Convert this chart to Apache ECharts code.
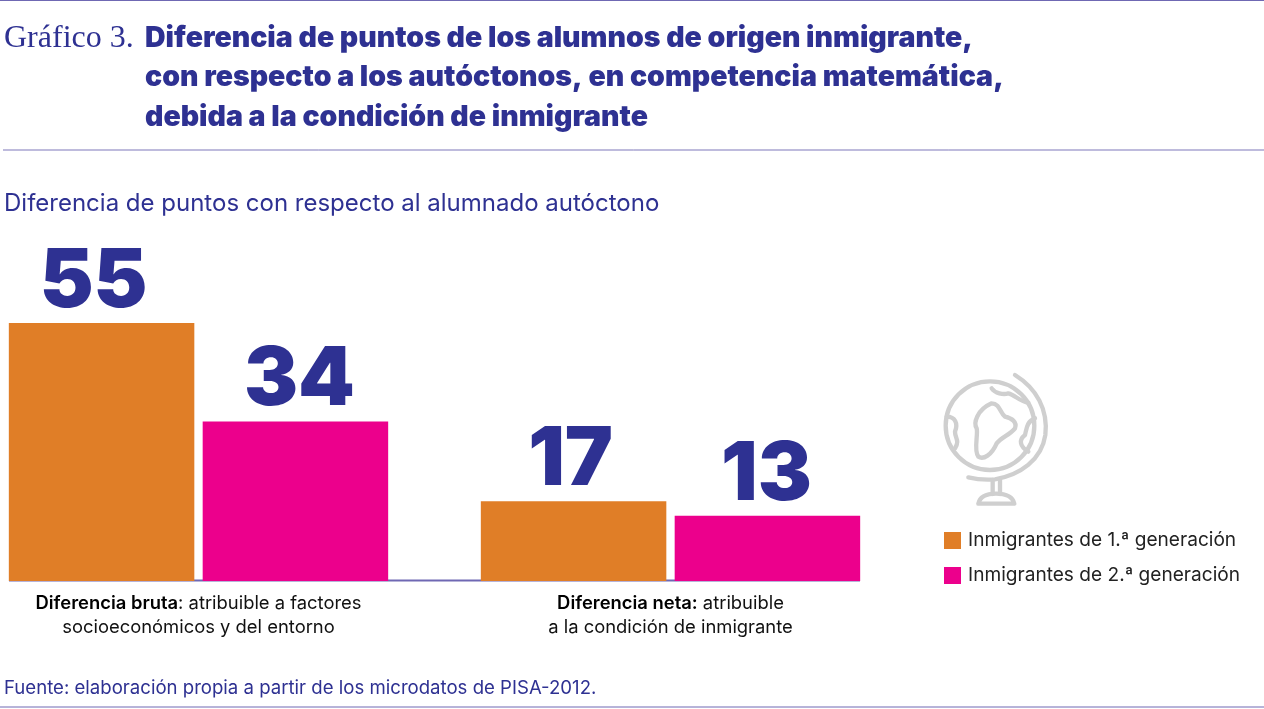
<!DOCTYPE html>
<html>
<head>
<meta charset="utf-8">
<style>html,body{margin:0;padding:0;background:#fff}#c{width:1264px;height:709px}</style>
<script src="https://cdn.jsdelivr.net/npm/echarts@6/dist/echarts.min.js"></script>
</head>
<body>
<div id="c"></div>
<script>
const categories = [
  '{b|Diferencia bruta}: atribuible a factores\nsocioeconómicos y del entorno',
  '{b|Diferencia neta:} atribuible\na la condición de inmigrante'
];
const seriesNames = ['Inmigrantes de 1.ª generación', 'Inmigrantes de 2.ª generación'];
const gen1 = [55, 17];
const gen2 = [34, 13.9];
const gen1Labels = [55, 17];
const gen2Labels = [34, 13];

const BLUE = '#2e3192', LINE = '#6f68b3', SANS = 'Inter, Roboto, sans-serif';
const chart = echarts.init(document.getElementById('c'), null, {renderer: 'canvas'});

const barLabel = (printed) => ({
  show: true, position: 'top', distance: 0,
  fontFamily: SANS, fontWeight: 900, fontSize: 81, color: BLUE,
  formatter: p => String(printed[p.dataIndex])
});
const barData = (values, nudges) => values.map((value, i) => ({value, label: {offset: [nudges[i], 0]}}));
const rule = (x1, y, x2, w, op) => ({
  type: 'line', silent: true,
  shape: {x1, y1: y, x2, y2: y},
  style: {stroke: LINE, lineWidth: w, opacity: op}
});
const G = {stroke: '#cfcfcf', lineWidth: 13, fill: null, lineCap: 'round', lineJoin: 'round'};
let shapeId = 0;
const gp = d => {
  const name = 'globePart' + (shapeId++);
  echarts.graphic.registerShape(name, echarts.graphic.extendPath(d, {}));
  return {type: name, silent: true, style: G};
};

chart.setOption({
  animation: false,
  backgroundColor: '#fff',
  title: [
    {text: 'Gráfico 3.', left: 4, top: 23, padding: 0, textStyle: {fontFamily: '"Liberation Serif", serif', fontWeight: 400, fontSize: 32, color: BLUE}},
    {text: 'Diferencia de puntos de los alumnos de origen inmigrante,\ncon respecto a los autóctonos, en competencia matemática,\ndebida a la condición de inmigrante',
     left: 145, top: 18.5, padding: 0, textStyle: {fontFamily: SANS, fontWeight: 900, fontSize: 28.5, lineHeight: 39.5, color: BLUE}},
    {text: 'Diferencia de puntos con respecto al alumnado autóctono', left: 4, top: 192, padding: 0,
     textStyle: {fontFamily: SANS, fontWeight: 400, fontSize: 24, color: BLUE}},
    {text: 'Fuente: elaboración propia a partir de los microdatos de PISA-2012.', left: 4, top: 679, padding: 0,
     textStyle: {fontFamily: SANS, fontWeight: 400, fontSize: 18.6, color: BLUE}}
  ],
  legend: {
    orient: 'vertical', left: 939, top: 526, itemWidth: 17, itemHeight: 17, itemGap: 16,
    icon: 'rect', data: seriesNames, selectedMode: false,
    textStyle: {fontFamily: SANS, fontSize: 19.1, color: '#222', padding: [0, 0, 0, 2]}
  },
  grid: {left: -37.5, width: 944, top: 299.6, height: 281.4, outerBoundsMode: 'none', containLabel: false},
  xAxis: {
    type: 'category', data: categories,
    axisLine: {show: false}, axisTick: {show: false},
    axisLabel: {
      interval: 0, margin: 10.5, fontFamily: SANS, fontSize: 18.4, lineHeight: 24, color: '#111', align: 'center',
      rich: {b: {fontFamily: SANS, fontSize: 18.4, lineHeight: 24, fontWeight: 600, color: '#000'}}
    }
  },
  yAxis: {type: 'value', min: 0, max: 60, show: false},
  series: [
    {name: seriesNames[0], type: 'bar', data: barData(gen1, [-8, -3]), barWidth: 185.5, barGap: '4.5%', itemStyle: {color: '#e07e27'}, label: barLabel(gen1Labels)},
    {name: seriesNames[1], type: 'bar', data: barData(gen2, [4, -1]), barWidth: 185.5, barGap: '4.5%', itemStyle: {color: '#ec008c'}, label: barLabel(gen2Labels)}
  ],
  graphic: [
    rule(0, 0.5, 1264, 1, 1),
    rule(3, 150, 1264, 1, 0.9),
    rule(0, 707, 1264, 1, 1),
    Object.assign(rule(9, 580.5, 860, 2, 1), {z: -1}),
    {type: 'group', x: 920, y: 360, scaleX: 1/3, scaleY: 1/3, silent: true, children: [
      {type: 'circle', silent: true, shape: {cx: 210, cy: 197, r: 133}, style: G},
      gp('M285,45 C350,85 385,150 376,225 C365,300 300,345 225,358 C195,360 170,358 145,352'),
      gp('M218,360 L218,402 M240,360 L240,402'),
      gp('M175,431 C180,408 200,401 228,401 C260,401 278,410 283,431 Z'),
      gp('M215,130 C240,130 240,160 255,170 C275,175 292,185 285,205 C270,225 245,230 230,250 C215,285 190,300 175,290 C160,270 175,225 170,205 C160,190 170,150 215,130 Z'),
      gp('M215,85 C225,100 250,105 265,100 C285,105 300,125 325,128'),
      gp('M80,170 C105,170 115,190 105,215 C105,235 120,240 105,265'),
      gp('M345,175 C320,185 320,205 315,225 C295,240 300,260 325,275')
    ]}
  ]
});
</script>
</body>
</html>
